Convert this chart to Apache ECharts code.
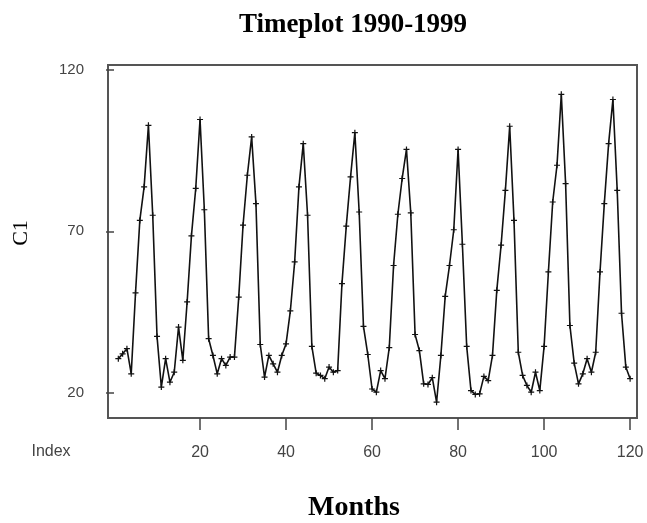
<!DOCTYPE html>
<html>
<head>
<meta charset="utf-8">
<script src="https://cdn.jsdelivr.net/npm/echarts@6/dist/echarts.min.js"></script>
<style>html,body{margin:0;padding:0;background:#fff;}#c{width:647px;height:523px;}</style>
</head>
<body>
<div id="c"></div>
<script>
const titleText = "Timeplot 1990-1999";
const xName = "Months";
const yName = "C1";
const xTicks = [20, 40, 60, 80, 100, 120];
const yTicks = [20, 70, 120];
const c1 = [
  30.5, 32.0, 33.6, 25.8, 50.9, 73.4, 83.8, 102.9, 75.0, 37.4, 21.7, 30.5,
  23.2, 26.3, 40.3, 30.0, 48.1, 68.6, 83.3, 104.7, 76.7, 36.7, 31.5, 25.8,
  30.5, 28.4, 31.0, 31.0, 49.6, 71.9, 87.4, 99.3, 78.6, 34.9, 24.8, 31.5,
  28.9, 26.3, 31.5, 35.1, 45.3, 60.5, 83.8, 97.2, 75.0, 34.3, 26.0, 25.3,
  24.3, 27.9, 26.3, 26.8, 53.8, 71.6, 86.9, 100.6, 76.0, 40.5, 31.8, 21.1,
  20.1, 26.8, 24.3, 33.9, 59.4, 75.3, 86.4, 95.4, 75.7, 38.0, 33.0, 22.7,
  22.5, 24.6, 17.0, 31.5, 49.8, 59.4, 70.5, 95.4, 66.0, 34.3, 20.6, 19.4,
  19.6, 25.0, 23.7, 31.5, 51.7, 65.7, 82.7, 102.6, 73.4, 32.5, 25.3, 22.2,
  20.1, 26.3, 20.6, 34.3, 57.4, 79.1, 90.5, 112.5, 84.8, 40.8, 29.1, 22.7,
  25.8, 30.5, 26.3, 32.5, 57.4, 78.6, 97.2, 110.9, 82.7, 44.6, 27.9, 24.3
];
const points = c1.map((v, i) => [i + 1, v]);

const chart = echarts.init(document.getElementById('c'), null, {renderer: 'canvas'});
const plus = 'path://M0.4,0H0.6V0.4H1V0.6H0.6V1H0.4V0.6H0V0.4H0.4Z';
chart.setOption({
  animation: false,
  backgroundColor: '#fff',
  grid: {left: 108, right: 10, top: 65, bottom: 105, show: true, borderColor: '#555', borderWidth: 2, backgroundColor: 'transparent'},
  xAxis: {
    type: 'value', min: -1.4, max: 121.6,
    axisLine: {show: false},
    splitLine: {show: false},
    axisTick: {show: true, customValues: xTicks, length: 12, lineStyle: {color: '#444', width: 1.5}},
    axisLabel: {customValues: xTicks, margin: 27, fontSize: 16, color: '#444', fontFamily: 'Liberation Sans'}
  },
  yAxis: {
    type: 'value', min: 12.1, max: 121.6,
    axisLine: {show: false},
    splitLine: {show: false},
    axisTick: {show: true, customValues: yTicks, length: 8, lineStyle: {color: '#444', width: 1.5}},
    axisLabel: {customValues: yTicks, margin: 24, fontSize: 15, color: '#444', fontFamily: 'Liberation Sans'}
  },
  graphic: [
    {type: 'text', x: 353, y: 25, style: {text: titleText, textAlign: 'center', textVerticalAlign: 'middle', font: 'bold 27px "Liberation Serif"', fill: '#000'}},
    {type: 'text', x: 354, y: 508, style: {text: xName, textAlign: 'center', textVerticalAlign: 'middle', font: 'bold 28px "Liberation Serif"', fill: '#000'}},
    {type: 'text', x: 21, y: 233, rotation: Math.PI / 2, style: {text: yName, textAlign: 'center', textVerticalAlign: 'middle', font: '22px "Liberation Serif"', fill: '#000'}},
    {type: 'text', x: 51, y: 452, style: {text: 'Index', textAlign: 'center', textVerticalAlign: 'middle', font: '16px "Liberation Sans"', fill: '#444'}}
  ],
  series: [{
    type: 'line',
    data: points,
    symbol: plus,
    symbolSize: 6,
    showSymbol: true,
    lineStyle: {color: '#111', width: 1.6},
    itemStyle: {color: '#111'}
  }]
});
</script>
</body>
</html>
